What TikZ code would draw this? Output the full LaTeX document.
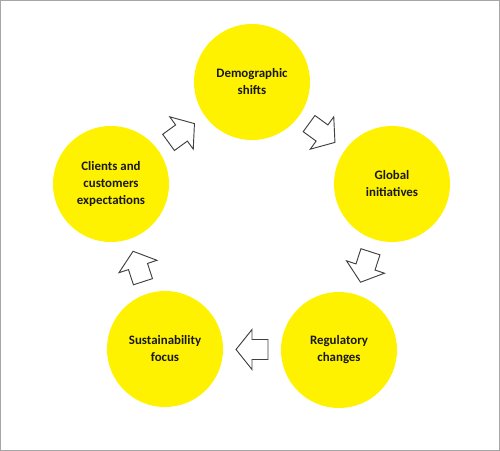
\documentclass[tikz,border=0pt]{standalone}
\usepackage{fontspec}
\setmainfont{Carlito}
\usetikzlibrary{calc}

\begin{document}
\begin{tikzpicture}[x=0.03cm, y=0.03cm,
  topic/.style={circle, fill=yellow, minimum size=3.48cm, inner sep=0pt, align=center,
    font=\bfseries\fontsize{11}{14.5}\selectfont, text=black!90},
  blockarrow/.style={draw=black!75, fill=white, line width=0.8pt, line join=miter}]
\useasboundingbox (0,0) rectangle (500,-451);
\draw[black!35, line width=0.6pt] (0.5,-0.5) rectangle (499.5,-450.5);
\node[topic] (dem) at (252,-82) {Demographic\\shifts};
\node[topic] (glo) at (392,-184) {Global\\initiatives};
\node[topic] (reg) at (339,-350) {Regulatory\\changes};
\node[topic] (sus) at (165,-349) {Sustainability\\focus};
\node[topic] (cli) at (111,-184) {Clients and\\customers\\expectations};
\foreach \a/\b/\r in {dem/glo/-36, glo/reg/-108, reg/sus/180, sus/cli/108, cli/dem/36}
  \draw[blockarrow, shift={($(\a)!0.5!(\b)$)}, rotate=\r]
    (-16,-10) -- (0,-10) -- (0,-20) -- (16,0) -- (0,20) -- (0,10) -- (-16,10) -- cycle;
\end{tikzpicture}
\end{document}
